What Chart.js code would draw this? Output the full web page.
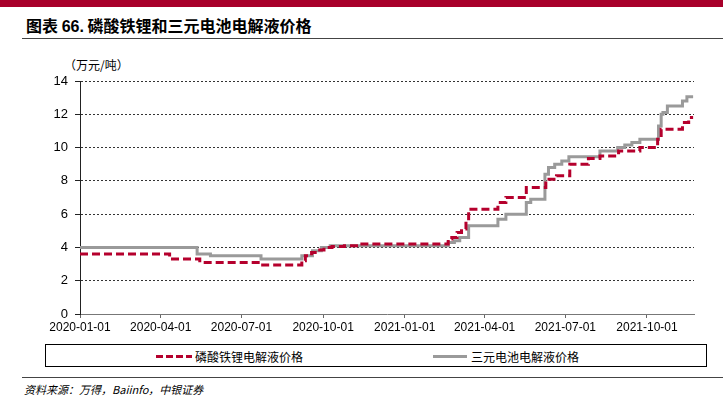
<!DOCTYPE html>
<html>
<head>
<meta charset="utf-8">
<script src="https://cdn.jsdelivr.net/npm/chart.js@4/dist/chart.umd.min.js"></script>
<style>
  html, body { margin: 0; padding: 0; background: #fff; }
  body { width: 723px; height: 403px; position: relative; overflow: hidden; font-family: "Noto Sans CJK SC", "Liberation Sans", sans-serif; }
  #topbar { position: absolute; left: 0; top: 0; width: 723px; height: 7px; background: #A8002A; }
  #title { position: absolute; left: 26px; top: 13px; font-size: 16px; font-weight: bold; color: #000; letter-spacing: 0px; white-space: nowrap; }
  #title .num { font-family: "Liberation Sans", Arial, sans-serif; }
  #rule1 { position: absolute; left: 22px; top: 38px; width: 701px; height: 1px; background: #444; }
  #unit { position: absolute; left: 64px; top: 56px; font-size: 12px; color: #000; white-space: nowrap; }
  #wrap { position: absolute; left: 0; top: 40px; width: 723px; height: 300px; }
  #legend { position: absolute; left: 45px; top: 344px; width: 662px; height: 23px; border: 1px solid #000; box-sizing: border-box; }
  .lg { position: absolute; top: 3px; font-size: 12px; color: #000; white-space: nowrap; }
  .sw { position: absolute; top: 10px; height: 3px; }
  #sw1 { left: 110px; width: 36px; background: repeating-linear-gradient(to right, #B5002D 0 7px, transparent 7px 10px); }
  #sw2 { left: 387px; width: 34px; background: #9A9A9A; }
  #lg1 { left: 149px; }
  #lg2 { left: 425px; }
  #rule2 { position: absolute; left: 22px; top: 377px; width: 701px; height: 1px; background: #444; }
  #foot { position: absolute; left: 24px; top: 381px; font-size: 11px; font-style: italic; color: #000; white-space: nowrap; }
</style>
</head>
<body>
<div id="topbar"></div>
<div id="title">图表 <span class="num">66.</span> 磷酸铁锂和三元电池电解液价格</div>
<div id="rule1"></div>
<div id="unit">（万元/吨）</div>
<div id="wrap"><canvas id="c" width="723" height="300"></canvas></div>
<div id="legend">
  <div class="sw" id="sw1"></div><div class="lg" id="lg1">磷酸铁锂电解液价格</div>
  <div class="sw" id="sw2"></div><div class="lg" id="lg2">三元电池电解液价格</div>
</div>
<div id="rule2"></div>
<div id="foot">资料来源：万得，Baiinfo，中银证券</div>
<script>
// ---- data (change dates, value holds until next date) ----
const lfpDates = ["2020-01-01","2020-04-11","2020-05-15","2020-07-23","2020-09-07","2020-09-11","2020-09-18","2020-09-25","2020-10-02","2020-10-11","2020-10-25","2020-11-11","2021-02-19","2021-02-23","2021-03-01","2021-03-06","2021-03-11","2021-03-14","2021-04-16","2021-04-25","2021-05-18","2021-06-09","2021-06-21","2021-07-06","2021-07-27","2021-08-09","2021-08-30","2021-09-23","2021-10-13","2021-10-17","2021-11-10","2021-11-17","2021-11-22"];
const lfpValues = [3.6,3.3,3.1,2.95,3.2,3.5,3.7,3.85,4.0,4.05,4.1,4.2,4.5,4.6,4.9,5.1,5.6,6.3,6.7,7.0,7.6,8.1,8.3,9.0,9.35,9.5,9.8,10.0,10.5,11.1,11.5,11.8,11.8];
const nmcDates = ["2020-01-01","2020-05-12","2020-05-27","2020-07-23","2020-09-07","2020-09-19","2020-09-29","2020-10-09","2021-02-19","2021-02-26","2021-03-04","2021-03-14","2021-04-16","2021-04-25","2021-05-18","2021-05-23","2021-06-08","2021-06-12","2021-06-19","2021-06-27","2021-07-05","2021-08-09","2021-08-29","2021-09-06","2021-09-14","2021-09-23","2021-10-14","2021-10-17","2021-10-19","2021-10-24","2021-11-10","2021-11-15","2021-11-22"];
const nmcValues = [4.0,3.6,3.5,3.3,3.5,3.8,4.0,4.1,4.3,4.4,4.6,5.3,5.7,6.0,6.7,6.9,8.4,8.8,9.0,9.2,9.45,9.8,10.0,10.15,10.3,10.5,11.3,12.0,12.1,12.5,12.8,13.05,13.05];
const xTickLabels = ["2020-01-01","2020-04-01","2020-07-01","2020-10-01","2021-01-01","2021-04-01","2021-07-01","2021-10-01"];
const yTicks = [0,2,4,6,8,10,12,14];
const seriesNames = ["磷酸铁锂电解液价格","三元电池电解液价格"];
const xStart = "2020-01-01", xEnd = "2021-11-23";

const DAY = 86400000;
const dayOf = s => Math.round((Date.parse(s + "T00:00:00Z") - Date.parse(xStart + "T00:00:00Z")) / DAY);
const dateOf = d => new Date(Date.parse(xStart + "T00:00:00Z") + d * DAY).toISOString().slice(0, 10);
const pts = (ds, vs) => ds.map((d, i) => ({x: dayOf(d), y: vs[i]}));

new Chart(document.getElementById('c'), {
  type: 'line',
  data: {
    datasets: [
      { label: seriesNames[1], data: pts(nmcDates, nmcValues), borderColor: '#9A9A9A', borderWidth: 3, pointRadius: 0, stepped: true, fill: false, order: 2 },
      { label: seriesNames[0], data: pts(lfpDates, lfpValues), borderColor: '#B5002D', borderWidth: 3, borderDash: [8, 4], pointRadius: 0, stepped: true, fill: false, order: 1 }
    ]
  },
  options: {
    responsive: false,
    animation: false,
    layout: { padding: { left: 0, right: 29, top: 41, bottom: 0 } },
    plugins: { legend: { display: false }, tooltip: { enabled: false } },
    scales: {
      x: {
        type: 'linear', min: 0, max: dayOf(xEnd),
        afterBuildTicks: s => { s.ticks = xTickLabels.map(t => ({value: dayOf(t)})); },
        afterFit: s => { s.height = 26; },
        ticks: { callback: v => dateOf(v), maxRotation: 0, autoSkip: false, font: { family: 'Liberation Sans', size: 12 }, color: '#000', padding: 2 },
        grid: { drawOnChartArea: false, drawTicks: true, tickLength: 4, tickColor: '#666' },
        border: { display: true, color: '#777', width: 1 }
      },
      y: {
        min: 0, max: 14,
        afterBuildTicks: s => { s.ticks = yTicks.map(v => ({value: v})); },
        afterFit: s => { s.width = 80; },
        ticks: { font: { family: 'Liberation Sans', size: 13 }, color: '#000', padding: 7 },
        grid: { color: c => (c.tick && c.tick.value === 0) ? 'rgba(0,0,0,0)' : '#333', lineWidth: 1, tickLength: 5, tickColor: '#222' },
        border: { display: true, color: '#222', width: 1, dash: [2, 2] }
      }
    }
  }
});
</script>
</body>
</html>
